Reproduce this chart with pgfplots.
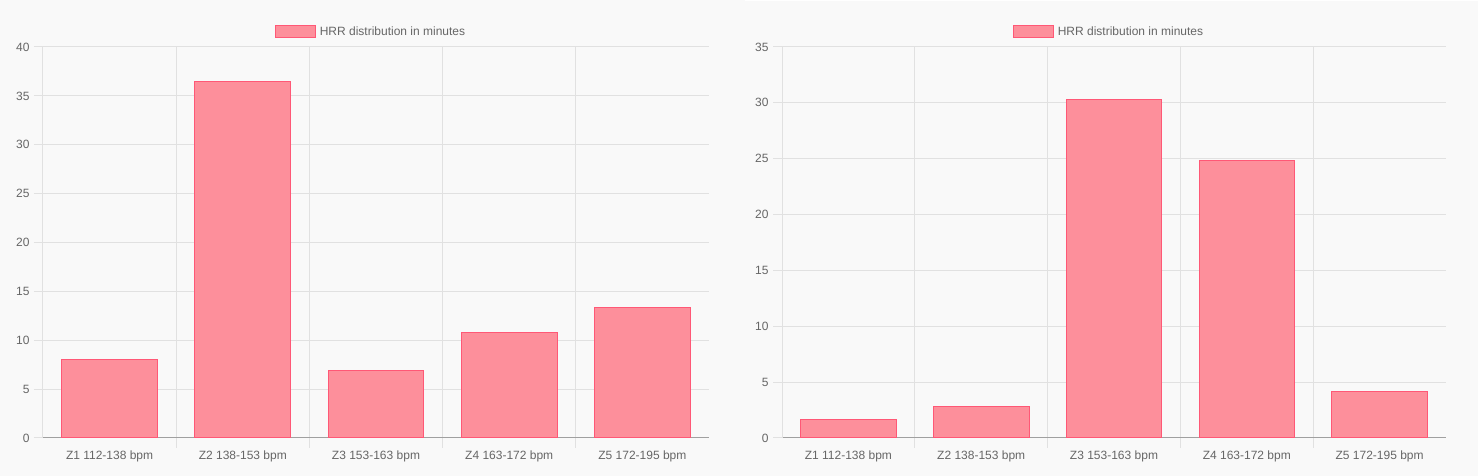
\documentclass[border=0pt]{standalone}
\usepackage{pgfplots}
\pgfplotsset{compat=1.18}
\usepackage{fontspec}
\setmainfont{Liberation Sans}
\definecolor{bg}{RGB}{249,249,249}
\definecolor{barfill}{RGB}{253,143,155}
\definecolor{barline}{RGB}{255,88,118}
\definecolor{gridc}{RGB}{225,225,225}
\definecolor{axisc}{RGB}{160,160,160}
\definecolor{txt}{RGB}{102,102,102}
\pgfplotsset{hrr/.style={
  scale only axis, width=#1, height=391pt, anchor=south west,
  xmin=-0.5, xmax=4.5, ymin=0,
  xtick={0,1,2,3,4},
  xticklabels={Z1 112-138 bpm, Z2 138-153 bpm, Z3 153-163 bpm, Z4 163-172 bpm, Z5 172-195 bpm},
  minor xtick={0.5,1.5,2.5,3.5},
  xminorgrids, ymajorgrids,
  ytick distance=5,
  major x tick style={draw=none},
  minor x tick style={draw=gridc, line width=1pt},
  minor tick length=10pt,
  y tick style={draw=gridc, line width=1pt},
  major tick length=9pt,
  tick align=outside,
  axis x line*=bottom, axis y line*=left,
  x axis line style={draw=axisc, line width=1pt, -},
  y axis line style={draw=gridc, line width=1pt, -},
  grid style={draw=gridc, line width=1pt},
  minor grid style={draw=gridc, line width=1pt},
  tick label style={font=\fontsize{12}{14}\selectfont, text=txt},
  yticklabel style={xshift=-1pt},
  /pgf/number format/assume math mode=true,
  ybar, bar width=0.72,
  legend style={at={(0.5,1)}, anchor=south, draw=none, fill=none, yshift=6pt, xshift=-5pt,
    font=\fontsize{12}{14}\selectfont, text=txt,
    /tikz/every odd column/.append style={column sep=2pt}},
  legend image code/.code={\draw[fill=barfill, draw=barline, line width=1pt] (0pt,-6pt) rectangle (40pt,6pt);},
}}
\begin{document}
\begin{tikzpicture}
\useasboundingbox (0pt,0pt) rectangle (1478pt,476pt);
\fill[bg] (0pt,0pt) rectangle (1478pt,476pt);
\fill[white] (745pt,475pt) rectangle (1478pt,476pt);
\begin{axis}[hrr=666pt, at={(43pt,38pt)}, ymax=40]
\addplot[fill=barfill, draw=barline, line width=1pt] coordinates {(0,8.0) (1,36.5) (2,6.9) (3,10.8) (4,13.35)};
\addlegendentry{HRR distribution in minutes}
\end{axis}
\begin{axis}[hrr=664pt, at={(782pt,38pt)}, ymax=35]
\addplot[fill=barfill, draw=barline, line width=1pt] coordinates {(0,1.7) (1,2.82) (2,30.28) (3,24.8) (4,4.12)};
\addlegendentry{HRR distribution in minutes}
\end{axis}
\end{tikzpicture}
\end{document}
